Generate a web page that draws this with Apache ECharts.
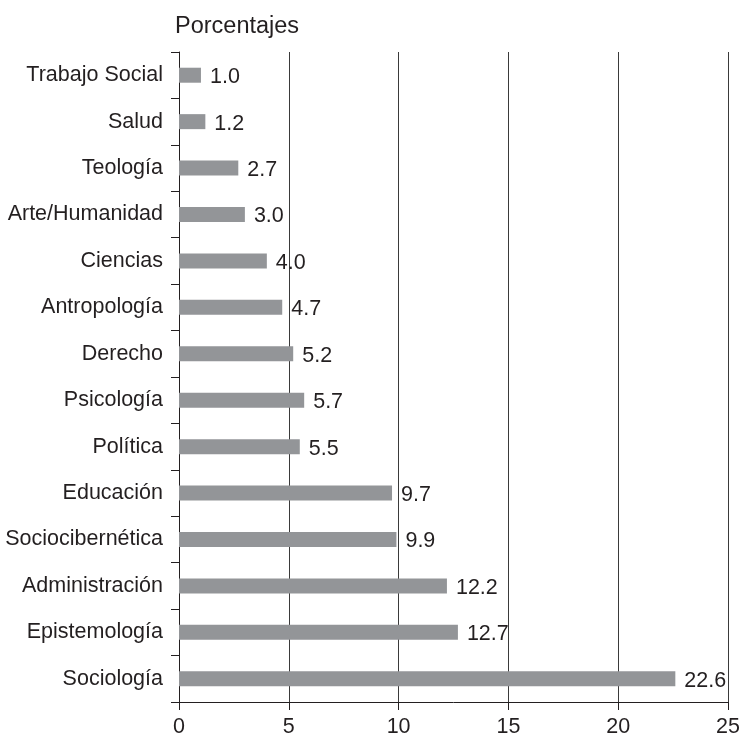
<!DOCTYPE html>
<html><head><meta charset="utf-8">
<script src="https://cdn.jsdelivr.net/npm/echarts@6/dist/echarts.min.js"></script>
<style>html,body{margin:0;padding:0;background:#fff}#c{width:743px;height:742px}</style>
</head><body><div id="c"></div>
<script>
const categories = ["Trabajo Social","Salud","Teología","Arte/Humanidad","Ciencias","Antropología","Derecho","Psicología","Política","Educación","Sociocibernética","Administración","Epistemología","Sociología"];
const values = [1.0,1.2,2.7,3.0,4.0,4.7,5.2,5.7,5.5,9.7,9.9,12.2,12.7,22.6];
const xTicks = [0,5,10,15,20,25];
const font = "Liberation Sans, Arial, Helvetica, sans-serif";
const chart = echarts.init(document.getElementById('c'));
chart.setOption({
  animation:false,
  backgroundColor:'#fff',
  title:{text:'Porcentajes',left:170,top:10,textStyle:{fontFamily:font,fontSize:23.5,fontWeight:'normal',color:'#231f20'}},
  grid:{left:179,right:12,top:52,bottom:40,containLabel:false},
  xAxis:{type:'value',min:0,max:25,interval:5,
    axisLine:{show:true,lineStyle:{color:'#231f20',width:1}},
    axisTick:{show:true,length:8,lineStyle:{color:'#231f20'}},
    axisLabel:{fontFamily:font,fontSize:21.5,color:'#231f20',margin:14,formatter:v=>xTicks.includes(v)?String(v):''},
    splitLine:{show:true,lineStyle:{color:'#3a3a3a',width:1}}},
  yAxis:{type:'category',data:categories,inverse:true,
    axisLine:{show:true,lineStyle:{color:'#231f20',width:1}},
    axisTick:{show:true,inside:false,length:8,alignWithLabel:false,lineStyle:{color:'#231f20'}},
    axisLabel:{fontFamily:font,fontSize:21.5,color:'#231f20',margin:16}},
  series:[{type:'bar',data:values,barWidth:15,
    itemStyle:{color:'#939598'},
    label:{show:true,position:'right',distance:9,offset:[0,2],fontFamily:font,fontSize:21.5,color:'#231f20',formatter:p=>p.value.toFixed(1)}}]
});
</script></body></html>
